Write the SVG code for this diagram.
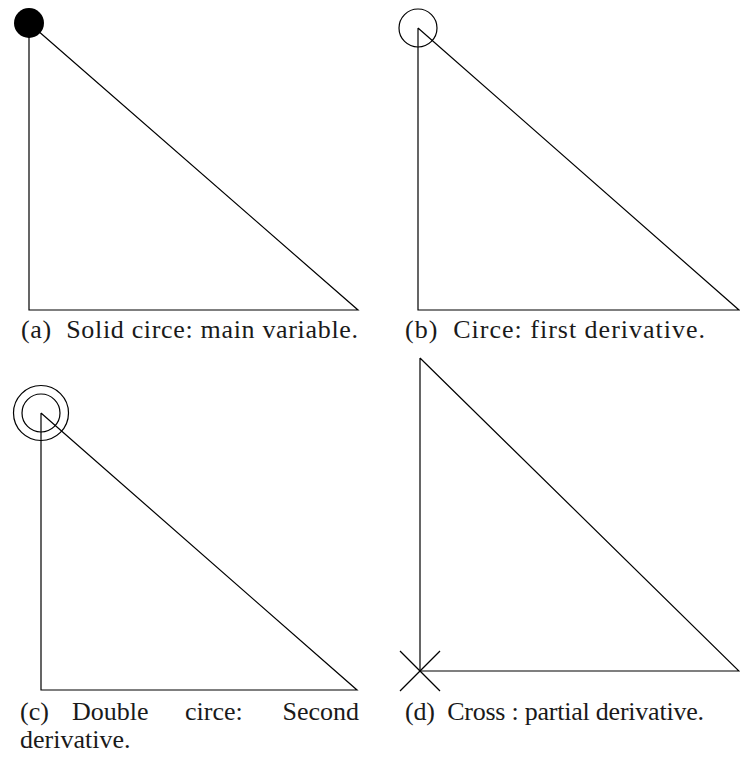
<svg xmlns="http://www.w3.org/2000/svg" width="740" height="768" viewBox="0 0 740 768">
<style>
.l{fill:none;stroke:#000;stroke-width:1.2}
.o{fill:none;stroke:#000;stroke-width:1.2}
.cap{font-family:"Liberation Serif","Times New Roman",serif;font-size:26px;fill:#1a1a1a}
</style>
<rect width="740" height="768" fill="#fff"/>
<g id="panel-a">
<polyline class="l" points="29,23 29,310 358,310 29,23"/>
<circle cx="29" cy="23" r="15" fill="#000"/>
<text class="cap" x="21" y="338" textLength="337" lengthAdjust="spacing" xml:space="preserve">(a)  Solid circe: main variable.</text>
</g>
<g id="panel-b">
<polyline class="l" points="418,28 418,310 739,310 418,28"/>
<circle class="o" cx="418" cy="28" r="19"/>
<text class="cap" x="405" y="338" textLength="300" lengthAdjust="spacing" xml:space="preserve">(b)  Circe: first derivative.</text>
</g>
<g id="panel-c">
<polyline class="l" points="41,413 41,690 357,690 41,413"/>
<circle class="o" cx="41" cy="413" r="19"/>
<circle class="o" cx="41" cy="413" r="27.5"/>
<text class="cap" y="720"><tspan x="20">(c)</tspan><tspan x="72">Double</tspan><tspan x="185">circe:</tspan><tspan x="359" text-anchor="end">Second</tspan></text>
<text class="cap" x="20" y="748">derivative.</text>
</g>
<g id="panel-d">
<polyline class="l" points="420,358 420,671 739,671 420,358"/>
<line class="l" x1="400" y1="651" x2="440" y2="691"/>
<line class="l" x1="400" y1="691" x2="440" y2="651"/>
<text class="cap" x="405" y="720" textLength="299" lengthAdjust="spacing" xml:space="preserve">(d)  Cross : partial derivative.</text>
</g>
</svg>
